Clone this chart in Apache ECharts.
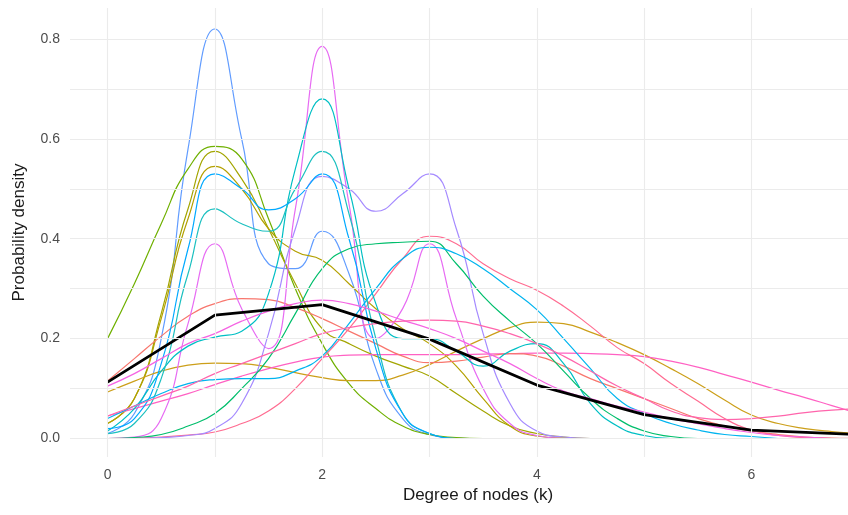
<!DOCTYPE html>
<html>
<head>
<meta charset="utf-8">
<script src="https://cdn.jsdelivr.net/npm/echarts@6/dist/echarts.min.js"></script>
<style>
html,body{margin:0;padding:0;background:#fff;}
#main{width:848px;height:515px;}
</style>
</head>
<body>
<div id="main"></div>
<script>
// x grid of the density curves (degree k)
var xs = [0,0.25,0.5,0.75,1,1.25,1.5,1.75,2,2.25,2.5,2.75,3,3.25,3.5,3.75,4,4.25,4.5,4.75,5,5.25,5.5,5.75,6,6.25,6.5,6.75,7];

// density of each network, read at the xs above
var netA = [0.01,0.05,0.2,0.58,0.82,0.6,0.35,0.34,0.415,0.33,0.14,0.04,0.008,0.001,0];
var netB = [0.2,0.31,0.43,0.54,0.585,0.56,0.44,0.3,0.19,0.11,0.06,0.025,0.008,0.002,0];
var netC = [0.03,0.08,0.25,0.46,0.575,0.52,0.42,0.31,0.22,0.19,0.165,0.145,0.125,0.09,0.055,0.025,0.01,0.003,0];
var netD = [0.03,0.08,0.24,0.44,0.545,0.5,0.42,0.375,0.357,0.31,0.26,0.22,0.19,0.145,0.08,0.025,0.005,0.001,0];
var netE = [0.093,0.115,0.135,0.147,0.151,0.15,0.143,0.132,0.122,0.116,0.116,0.127,0.148,0.175,0.2,0.222,0.233,0.23,0.213,0.192,0.168,0.14,0.11,0.077,0.047,0.03,0.02,0.014,0.01];
var netF = [0.045,0.06,0.075,0.09,0.108,0.125,0.14,0.153,0.163,0.167,0.168,0.168,0.168,0.168,0.169,0.17,0.171,0.171,0.17,0.168,0.164,0.155,0.143,0.128,0.113,0.097,0.082,0.066,0.05];
var netG = [0.115,0.16,0.205,0.245,0.27,0.28,0.278,0.262,0.24,0.215,0.19,0.165,0.152,0.155,0.163,0.17,0.165,0.145,0.12,0.1,0.08,0.06,0.04,0.025,0.015,0.008,0.003,0.001,0];
var netH = [0,0.001,0.003,0.007,0.013,0.03,0.055,0.1,0.16,0.22,0.29,0.36,0.405,0.39,0.35,0.32,0.297,0.265,0.225,0.182,0.15,0.11,0.075,0.04,0.017,0.006,0.002,0];
var netI = [0,0.003,0.04,0.23,0.39,0.26,0.18,0.46,0.785,0.47,0.2,0.26,0.39,0.24,0.1,0.03,0.006,0];
var netJ = [0,0,0.002,0.006,0.02,0.07,0.21,0.42,0.525,0.5,0.455,0.49,0.53,0.42,0.21,0.07,0.015,0.003,0];
var netK = [0.015,0.06,0.135,0.185,0.203,0.215,0.29,0.54,0.68,0.5,0.27,0.2,0.2,0.175,0.145,0.175,0.19,0.15,0.07,0.025,0.006,0];
var netL = [0.01,0.03,0.12,0.33,0.46,0.43,0.415,0.5,0.575,0.45,0.2,0.05,0.01,0];
var netM = [0.02,0.04,0.15,0.38,0.53,0.5,0.458,0.48,0.53,0.4,0.18,0.05,0.01,0];
var netN = [0,0.002,0.008,0.025,0.05,0.1,0.16,0.25,0.34,0.38,0.39,0.393,0.395,0.35,0.285,0.235,0.19,0.135,0.08,0.04,0.015,0.004,0];
var netO = [0.04,0.065,0.09,0.11,0.118,0.12,0.12,0.135,0.165,0.23,0.3,0.36,0.383,0.37,0.34,0.3,0.258,0.2,0.14,0.08,0.05,0.03,0.017,0.008,0.004,0];
var netP = [0.105,0.13,0.16,0.19,0.21,0.235,0.255,0.27,0.277,0.27,0.255,0.237,0.22,0.2,0.175,0.15,0.12,0.095,0.08,0.065,0.053,0.04,0.03,0.02,0.012,0.006,0.003,0];
var netQ = [0.045,0.065,0.085,0.105,0.13,0.15,0.17,0.19,0.21,0.222,0.23,0.235,0.237,0.235,0.225,0.21,0.19,0.165,0.135,0.105,0.08,0.055,0.042,0.038,0.04,0.045,0.052,0.057,0.06];

// mean degree distribution (black line)
var meanX = [0,1,2,3,4,5,6,7];
var meanY = [0.113,0.247,0.268,0.199,0.107,0.048,0.017,0.008];

// ticks / grid
var xTicks = [0,2,4,6];
var yTicks = [0,0.2,0.4,0.6,0.8];
var gridX = [0,1,2,3,4,5,6];
var gridY = [0,0.1,0.2,0.3,0.4,0.5,0.6,0.7,0.8];

var curves = [netA,netB,netC,netD,netE,netF,netG,netH,netI,netJ,netK,netL,netM,netN,netO,netP,netQ];
var colors = ['#619CFF','#6FB000','#A3A500','#B3A000','#CC9F1A','#FF61C3','#F8766D','#FF6C91','#E76BF3',
              '#A58AFF','#00BFC4','#1CC0C0','#00A9FF','#00BE6C','#00B4EF','#F564E3','#FF65AC'];

var myChart = echarts.init(document.getElementById('main'));

var series = [];
// grid lines drawn as markLines
series.push({
    type: 'line',
    data: [[0, 0]],
    symbol: 'none',
    silent: true,
    z: 1,
    lineStyle: {opacity: 0},
    markLine: {
        symbol: ['none', 'none'],
        silent: true,
        animation: false,
        label: {show: false},
        lineStyle: {color: '#EBEBEB', width: 1.1, type: 'solid'},
        data: gridX.map(function(v){ return {xAxis: v}; }).concat(gridY.map(function(v){ return {yAxis: v}; }))
    }
});

for (var i = 0; i < curves.length; i++) {
    series.push({
        type: 'line',
        data: curves[i].map(function(v, j){ return [xs[j], v]; }),
        symbol: 'none',
        smooth: 0.5,
        z: 2,
        lineStyle: {color: colors[i], width: 1.2}
    });
}

series.push({
    type: 'line',
    data: meanY.map(function(v, j){ return [meanX[j], v]; }),
    symbol: 'none',
    z: 3,
    lineStyle: {color: '#000000', width: 2.8}
});

var option = {
    animation: false,
    backgroundColor: '#ffffff',
    textStyle: {fontFamily: 'Liberation Sans, Arial, sans-serif'},
    grid: {left: 70, right: 0, top: 8, bottom: 58},
    xAxis: {
        type: 'value',
        min: -0.35,
        max: 6.9,
        name: 'Degree of nodes (k)',
        nameLocation: 'middle',
        nameGap: 29,
        nameTextStyle: {color: '#1A1A1A', fontSize: 17, padding: [0, 0, 0, 38]},
        axisLine: {show: false},
        axisTick: {show: false},
        splitLine: {show: false},
        axisLabel: {customValues: xTicks, color: '#4D4D4D', fontSize: 14, margin: 11}
    },
    yAxis: {
        type: 'value',
        min: -0.037,
        max: 0.862,
        name: 'Probability density',
        nameLocation: 'middle',
        nameGap: 42,
        nameTextStyle: {color: '#1A1A1A', fontSize: 17},
        axisLine: {show: false},
        axisTick: {show: false},
        splitLine: {show: false},
        axisLabel: {
            customValues: yTicks,
            color: '#4D4D4D',
            fontSize: 14,
            margin: 10,
            formatter: function(v){ return v.toFixed(1); }
        }
    },
    series: series
};
myChart.setOption(option);
</script>
</body>
</html>
